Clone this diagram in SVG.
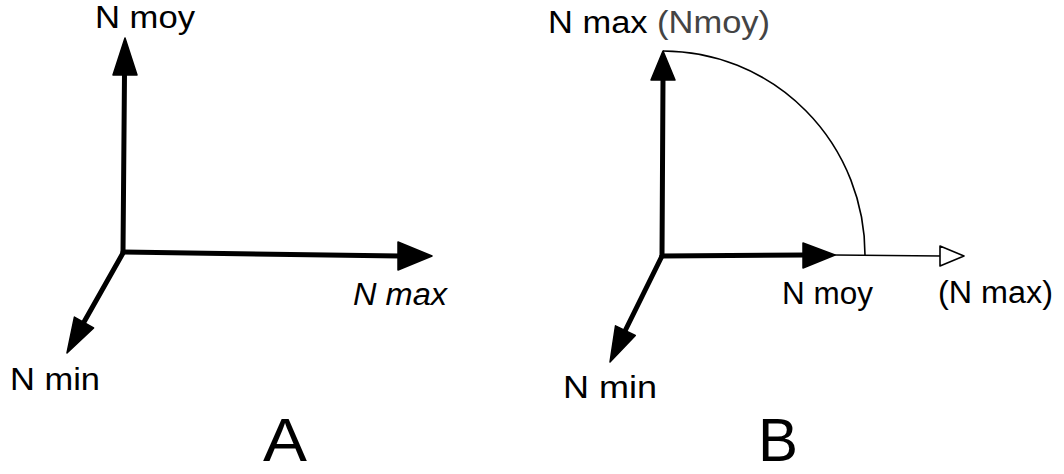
<svg xmlns="http://www.w3.org/2000/svg" width="1064" height="474" viewBox="0 0 1064 474">
<style>
.shaft{stroke:#000;stroke-width:5;fill:none;stroke-linecap:round}
.thin{stroke:#000;stroke-width:1.6;fill:none}
.head{fill:#000;stroke:#000;stroke-width:1.5;stroke-linejoin:round}
.ohead{fill:#fff;stroke:#000;stroke-width:1.6;stroke-linejoin:round}
.lbl{font-family:"Liberation Sans","DejaVu Sans",sans-serif;font-size:31px;fill:#000}
.big{font-family:"Liberation Sans","DejaVu Sans",sans-serif;font-size:61px;fill:#000}
.faint{fill:#444}
</style>
<rect width="1064" height="474" fill="#fff"/>
<g id="connectors">
  <!-- Diagram A -->
  <line class="shaft" x1="123" y1="252" x2="124.5" y2="74"/>
  <polygon class="head" points="125,38 137,75 113,75"/>
  <line class="shaft" x1="123" y1="252" x2="400" y2="256"/>
  <polygon class="head" points="432,256 398,270 398,242"/>
  <line class="shaft" x1="123" y1="253" x2="84" y2="322"/>
  <polygon class="head" points="67,353 74.4,317.1 93.6,327.9"/>
  <!-- Diagram B -->
  <line class="shaft" x1="662" y1="256" x2="663" y2="78"/>
  <polygon class="head" points="663,51 675,80 651,80"/>
  <line class="shaft" x1="662" y1="256" x2="805" y2="255"/>
  <polygon class="head" points="835,255 803,268 803,243"/>
  <line class="thin" x1="835" y1="255" x2="941" y2="256"/>
  <polygon class="ohead" points="964,256 940,266 940,246"/>
  <path class="thin" d="M663,51 A202 204 0 0 1 865,255"/>
  <line class="shaft" x1="662" y1="256" x2="625" y2="331"/>
  <polygon class="head" points="610,362 615.5,325.8 635.3,335.4"/>
</g>
<g id="node-A-nmoy"><text class="lbl" x="95" y="28" textLength="100" lengthAdjust="spacingAndGlyphs">N moy</text></g>
<g id="node-A-nmax"><text class="lbl" x="353" y="305" font-style="italic" textLength="94" lengthAdjust="spacingAndGlyphs">N max</text></g>
<g id="node-A-nmin"><text class="lbl" x="10" y="390" textLength="90" lengthAdjust="spacingAndGlyphs">N min</text></g>
<g id="node-A-title"><text class="big" x="263" y="461" textLength="44" lengthAdjust="spacingAndGlyphs">A</text></g>
<g id="node-B-nmax"><text class="lbl" x="548" y="33" textLength="222" lengthAdjust="spacingAndGlyphs">N max <tspan class="faint">(Nmoy)</tspan></text></g>
<g id="node-B-nmoy"><text class="lbl" x="782" y="304" textLength="91" lengthAdjust="spacingAndGlyphs">N moy</text></g>
<g id="node-B-nmax2"><text class="lbl" x="938" y="303" textLength="115" lengthAdjust="spacingAndGlyphs">(N max)</text></g>
<g id="node-B-nmin"><text class="lbl" x="563" y="398" textLength="94" lengthAdjust="spacingAndGlyphs">N min</text></g>
<g id="node-B-title"><text class="big" x="758" y="461" textLength="40" lengthAdjust="spacingAndGlyphs">B</text></g>
</svg>
